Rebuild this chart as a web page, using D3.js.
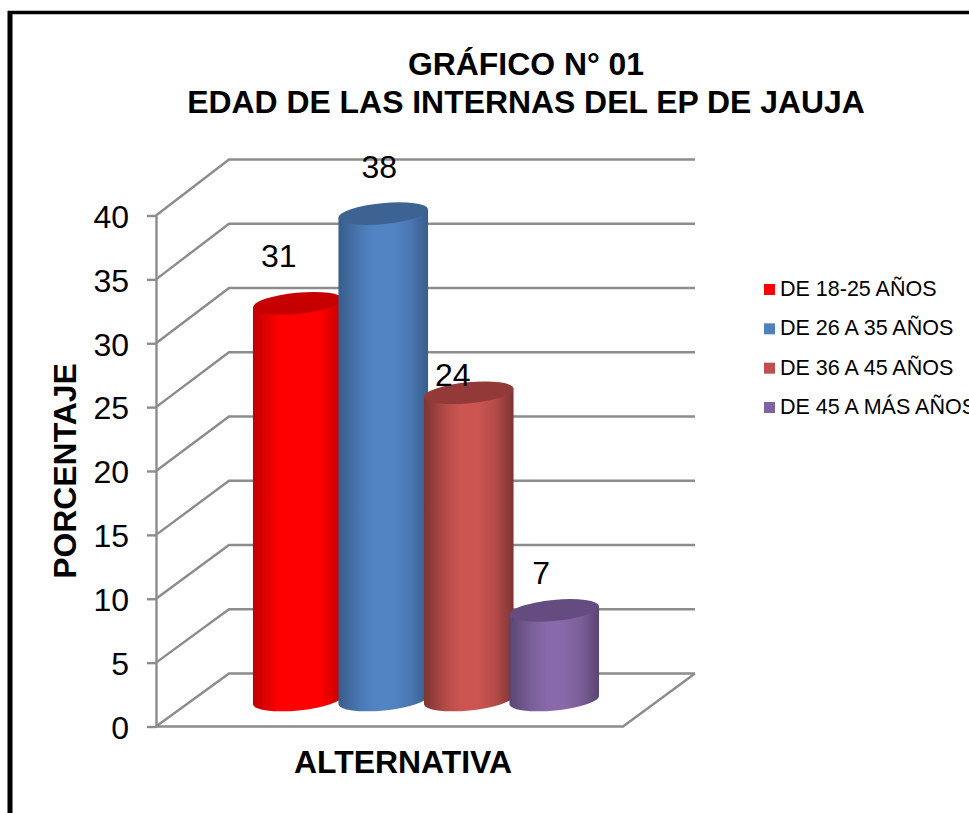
<!DOCTYPE html>
<html>
<head>
<meta charset="utf-8">
<script src="https://cdn.jsdelivr.net/npm/d3@7/dist/d3.min.js"></script>
<style>
html,body{margin:0;padding:0;background:#fff;overflow:hidden}
text{font-family:"Liberation Sans",Arial,sans-serif;fill:#000}
</style>
</head>
<body>
<svg id="chart" width="969" height="813"></svg>
<script>
const seriesNames = ["DE 18-25 AÑOS","DE 26 A 35 AÑOS","DE 36 A 45 AÑOS","DE 45 A MÁS AÑOS"];
const seriesValues = [31,38,24,7];
const sideColors = ["#ff0000","#5284c4","#cc5552","#8869a9"];
const edgeColors = ["#bf0000","#385d8a","#7c3432","#594571"];
const topColors = ["#c60000","#3c6391","#933a38","#644c80"];
const legendColors = ["#ff0000","#4f81bd","#c0504d","#8064a2"];
const yTicks = [0,5,10,15,20,25,30,35,40];
const titleLines = ["GRÁFICO N° 01","EDAD DE LAS INTERNAS DEL EP DE JAUJA"];

const svg = d3.select("#chart");
const grid = "#8c8c8c";

// frame
svg.append("line").attr("x1",10).attr("x2",10).attr("y1",11).attr("y2",813).attr("stroke","#000").attr("stroke-width",5);
svg.append("line").attr("x1",8).attr("x2",969).attr("y1",12.5).attr("y2",12.5).attr("stroke","#000").attr("stroke-width",3.5);

// scales
const yFront = d3.scaleLinear().domain([0,40]).range([726.5,215.5]);
const yBack  = d3.scaleLinear().domain([0,40]).range([673.5,159.5]);
const yBar   = d3.scaleLinear().domain([0,40]).range([700,188]);
const x = d3.scaleBand().domain(seriesNames).range([255,597]).padding(0);
const xFront = 156, xBack = 229, xBackEnd = 695, xFrontEnd = 623;

// walls
const g = svg.append("g").attr("fill","none").attr("stroke",grid).attr("stroke-width",2.4);
yTicks.forEach(t=>{
  g.append("path").attr("d",`M${xFront},${yFront(t)}L${xBack},${yBack(t)}H${xBackEnd}`);
});
g.append("path").attr("d",`M${xFront},${yFront(0)}H${xFrontEnd}L${xBackEnd},${yBack(0)}`);

// axis
const axis = d3.axisLeft(yFront).tickValues(yTicks).tickSize(9).tickPadding(18).tickSizeOuter(0);
const ax = svg.append("g").attr("transform",`translate(${xFront},0)`).call(axis);
ax.select(".domain").attr("stroke",grid).attr("stroke-width",2.4);
ax.selectAll(".tick line").attr("stroke",grid).attr("stroke-width",2.4);
ax.selectAll(".tick text").attr("font-size",32).attr("font-family",'"Liberation Sans",Arial,sans-serif').attr("fill","#000").attr("dy","0.37em");

// gradients
const defs = svg.append("defs");
seriesNames.forEach((n,i)=>{
  const gr = defs.append("linearGradient").attr("id","side"+i).attr("x1",0).attr("x2",1).attr("y1",0).attr("y2",0);
  const mix = d3.interpolateRgb(edgeColors[i],sideColors[i]);
  const peak = i===0 ? [[0,edgeColors[i]],[0.3,sideColors[i]],[0.75,sideColors[i]],[1,edgeColors[i]]]
                     : [[0,edgeColors[i]],[0.25,mix(0.72)],[0.42,sideColors[i]],[0.6,sideColors[i]],[0.8,mix(0.7)],[1,edgeColors[i]]];
  peak.forEach(p=>gr.append("stop").attr("offset",p[0]).attr("stop-color",p[1]));
});

// cylinders
const labelDx = [-19,-4,-16,-13];
const labelDy = [-36,-36,-7,-26];
const rx = 45, ry = 10.5, tilt = 5.5, dx = rx*Math.cos(tilt*Math.PI/180), dy = rx*Math.sin(tilt*Math.PI/180);
seriesNames.forEach((n,i)=>{
  const cx = x(n)+x.bandwidth()/2, v = seriesValues[i], yT = yBar(v), yB = yBar(0);
  svg.append("path")
    .attr("d",`M${cx-dx},${yT+dy}V${yB+dy}A${rx},${ry} ${-tilt} 0 0 ${cx+dx},${yB-dy}V${yT-dy}Z`)
    .attr("fill",`url(#side${i})`);
  svg.append("ellipse").attr("cx",cx).attr("cy",yT).attr("rx",rx).attr("ry",ry)
    .attr("transform",`rotate(${-tilt} ${cx} ${yT})`).attr("fill",topColors[i]);
  svg.append("text").attr("x",cx+labelDx[i]).attr("y",yT+labelDy[i])
    .attr("text-anchor","middle").attr("font-size",32).text(v);
});

// titles
titleLines.forEach((t,i)=>{
  svg.append("text").attr("x",526).attr("y",[75,113][i]).attr("text-anchor","middle")
    .attr("font-size",31.9).attr("font-weight","bold").text(t);
});
svg.append("text").attr("x",403).attr("y",773).attr("text-anchor","middle").attr("font-size",31.9).attr("font-weight","bold").text("ALTERNATIVA");
svg.append("text").attr("transform","translate(76,471) rotate(-90)").attr("text-anchor","middle").attr("font-size",31.9).attr("font-weight","bold").text("PORCENTAJE");

// legend
const ly = d3.scalePoint().domain(seriesNames).range([289,407]);
seriesNames.forEach((n,i)=>{
  svg.append("rect").attr("x",764).attr("y",ly(n)-5).attr("width",11).attr("height",11).attr("fill",legendColors[i]);
  svg.append("text").attr("x",780).attr("y",ly(n)+7).attr("font-size",21.5).text(n);
});
</script>
</body>
</html>
